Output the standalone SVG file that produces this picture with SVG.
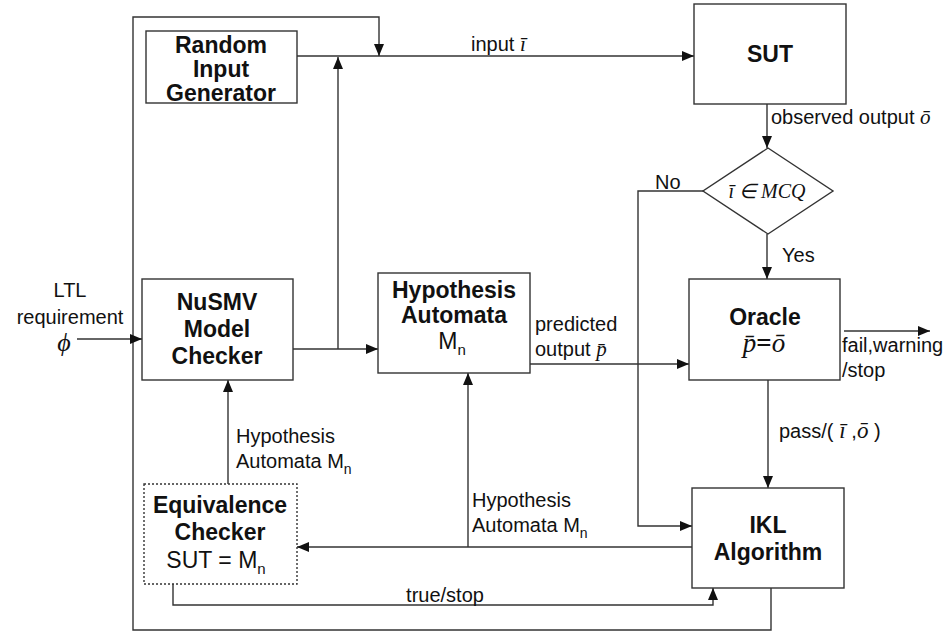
<svg xmlns="http://www.w3.org/2000/svg" width="952" height="635" viewBox="0 0 952 635">
  <style>
    .box { fill: #ffffff; stroke: #333333; stroke-width: 1.4; }
    .dotted { stroke-dasharray: 2 2; }
    .wire { fill: none; stroke: #333333; stroke-width: 1.4; }
    .b { font-family: "Liberation Sans", Arial, sans-serif; font-weight: bold; font-size: 23px; fill: #111111; text-anchor: middle; }
    .t { font-family: "Liberation Sans", Arial, sans-serif; font-size: 20px; fill: #111111; }
    .m { font-family: "Liberation Serif", "Times New Roman", serif; font-style: italic; font-size: 21px; fill: #111111; }
    .c { text-anchor: middle; }
    .sub { font-size: 14px; }
    .big { font-size: 23px; }
    .bigsub { font-size: 15px; }
  </style>
  <defs>
    <marker id="arrow" viewBox="0 0 12 10" refX="12" refY="5" markerWidth="12" markerHeight="10" markerUnits="userSpaceOnUse" orient="auto">
      <path d="M0,0 L12,5 L0,10 Z" fill="#111111"/>
    </marker>
  </defs>

  <rect width="952" height="635" fill="#ffffff"/>

  <!-- connectors -->
  <g id="connectors">
    <path class="wire" d="M297,56 H694" marker-end="url(#arrow)"/>
    <path class="wire" d="M771,588 V630 H133 V17 H379 V56" marker-end="url(#arrow)"/>
    <path class="wire" d="M293,349 H378" marker-end="url(#arrow)"/>
    <path class="wire" d="M338,349 V57" marker-end="url(#arrow)"/>
    <path class="wire" d="M77,339 H142" marker-end="url(#arrow)"/>
    <path class="wire" d="M767,104 V148" marker-end="url(#arrow)"/>
    <path class="wire" d="M767,234 V279" marker-end="url(#arrow)"/>
    <path class="wire" d="M703,191 H638 V526 H692" marker-end="url(#arrow)"/>
    <path class="wire" d="M530,364 H689" marker-end="url(#arrow)"/>
    <path class="wire" d="M844,331 H930" marker-end="url(#arrow)"/>
    <path class="wire" d="M768,380 V488" marker-end="url(#arrow)"/>
    <path class="wire" d="M692,547 H297" marker-end="url(#arrow)"/>
    <path class="wire" d="M468,547 V373" marker-end="url(#arrow)"/>
    <path class="wire" d="M228,484 V380" marker-end="url(#arrow)"/>
    <path class="wire" d="M173,584 V605 H713 V588" marker-end="url(#arrow)"/>

    <!-- connector labels -->
    <text class="t" x="471" y="51">input  <tspan class="m">ī</tspan></text>
    <text class="t" x="771" y="124">observed output <tspan class="m">ō</tspan></text>
    <text class="t" x="655" y="189">No</text>
    <text class="t" x="782" y="262">Yes</text>
    <text class="t" x="535" y="331">predicted</text>
    <text class="t" x="535" y="356">output <tspan class="m">p̄</tspan></text>
    <text class="t" x="842" y="352">fail,warning</text>
    <text class="t" x="842" y="377">/stop</text>
    <text class="t" x="779" y="438">pass/(<tspan class="m" style="font-size:23px"> ī  </tspan>,<tspan class="m" style="font-size:23px">ō</tspan> )</text>
    <text class="t c" x="70" y="297">LTL</text>
    <text class="t c" x="70" y="324">requirement</text>
    <text class="m c" x="64" y="351" style="font-size:26px">ϕ</text>
    <text class="t" x="236" y="443">Hypothesis</text>
    <text class="t" x="236" y="468">Automata M<tspan class="sub" dy="6">n</tspan></text>
    <text class="t" x="472" y="507">Hypothesis</text>
    <text class="t" x="472" y="532">Automata M<tspan class="sub" dy="6">n</tspan></text>
    <text class="t c" x="445" y="602">true/stop</text>
  </g>

  <g id="random-input-generator">
    <rect class="box" x="146" y="31" width="151" height="72"/>
    <text class="b" x="221" y="53">Random</text>
    <text class="b" x="221" y="77">Input</text>
    <text class="b" x="221" y="101">Generator</text>
  </g>

  <g id="sut">
    <rect class="box" x="694" y="4" width="152" height="100"/>
    <text class="b" x="770" y="62">SUT</text>
  </g>

  <g id="mcq-decision">
    <polygon class="box" points="768,148 833,191 768,234 703,191"/>
    <text class="m c" x="767" y="198" style="font-size:20px">ī ∈ MCQ</text>
  </g>

  <g id="nusmv-model-checker">
    <rect class="box" x="142" y="279" width="151" height="101"/>
    <text class="b" x="217" y="310">NuSMV</text>
    <text class="b" x="217" y="337">Model</text>
    <text class="b" x="217" y="364">Checker</text>
  </g>

  <g id="hypothesis-automata">
    <rect class="box" x="378" y="273" width="152" height="100"/>
    <text class="b" x="454" y="298">Hypothesis</text>
    <text class="b" x="454" y="323">Automata</text>
    <text class="t c big" x="452" y="349">M<tspan class="bigsub" dy="6">n</tspan></text>
  </g>

  <g id="oracle">
    <rect class="box" x="689" y="279" width="151" height="101"/>
    <text class="b" x="765" y="325">Oracle</text>
    <text class="m c" x="764" y="352" style="font-size:27px">p̄<tspan font-style="normal" font-weight="bold">=</tspan>ō</text>
  </g>

  <g id="equivalence-checker">
    <rect class="box dotted" x="144" y="484" width="153" height="100"/>
    <text class="b" x="220" y="513">Equivalence</text>
    <text class="b" x="220" y="540">Checker</text>
    <text class="t c big" x="216" y="568">SUT = M<tspan class="bigsub" dy="6">n</tspan></text>
  </g>

  <g id="ikl-algorithm">
    <rect class="box" x="692" y="488" width="152" height="100"/>
    <text class="b" x="768" y="533">IKL</text>
    <text class="b" x="768" y="560">Algorithm</text>
  </g>
</svg>
